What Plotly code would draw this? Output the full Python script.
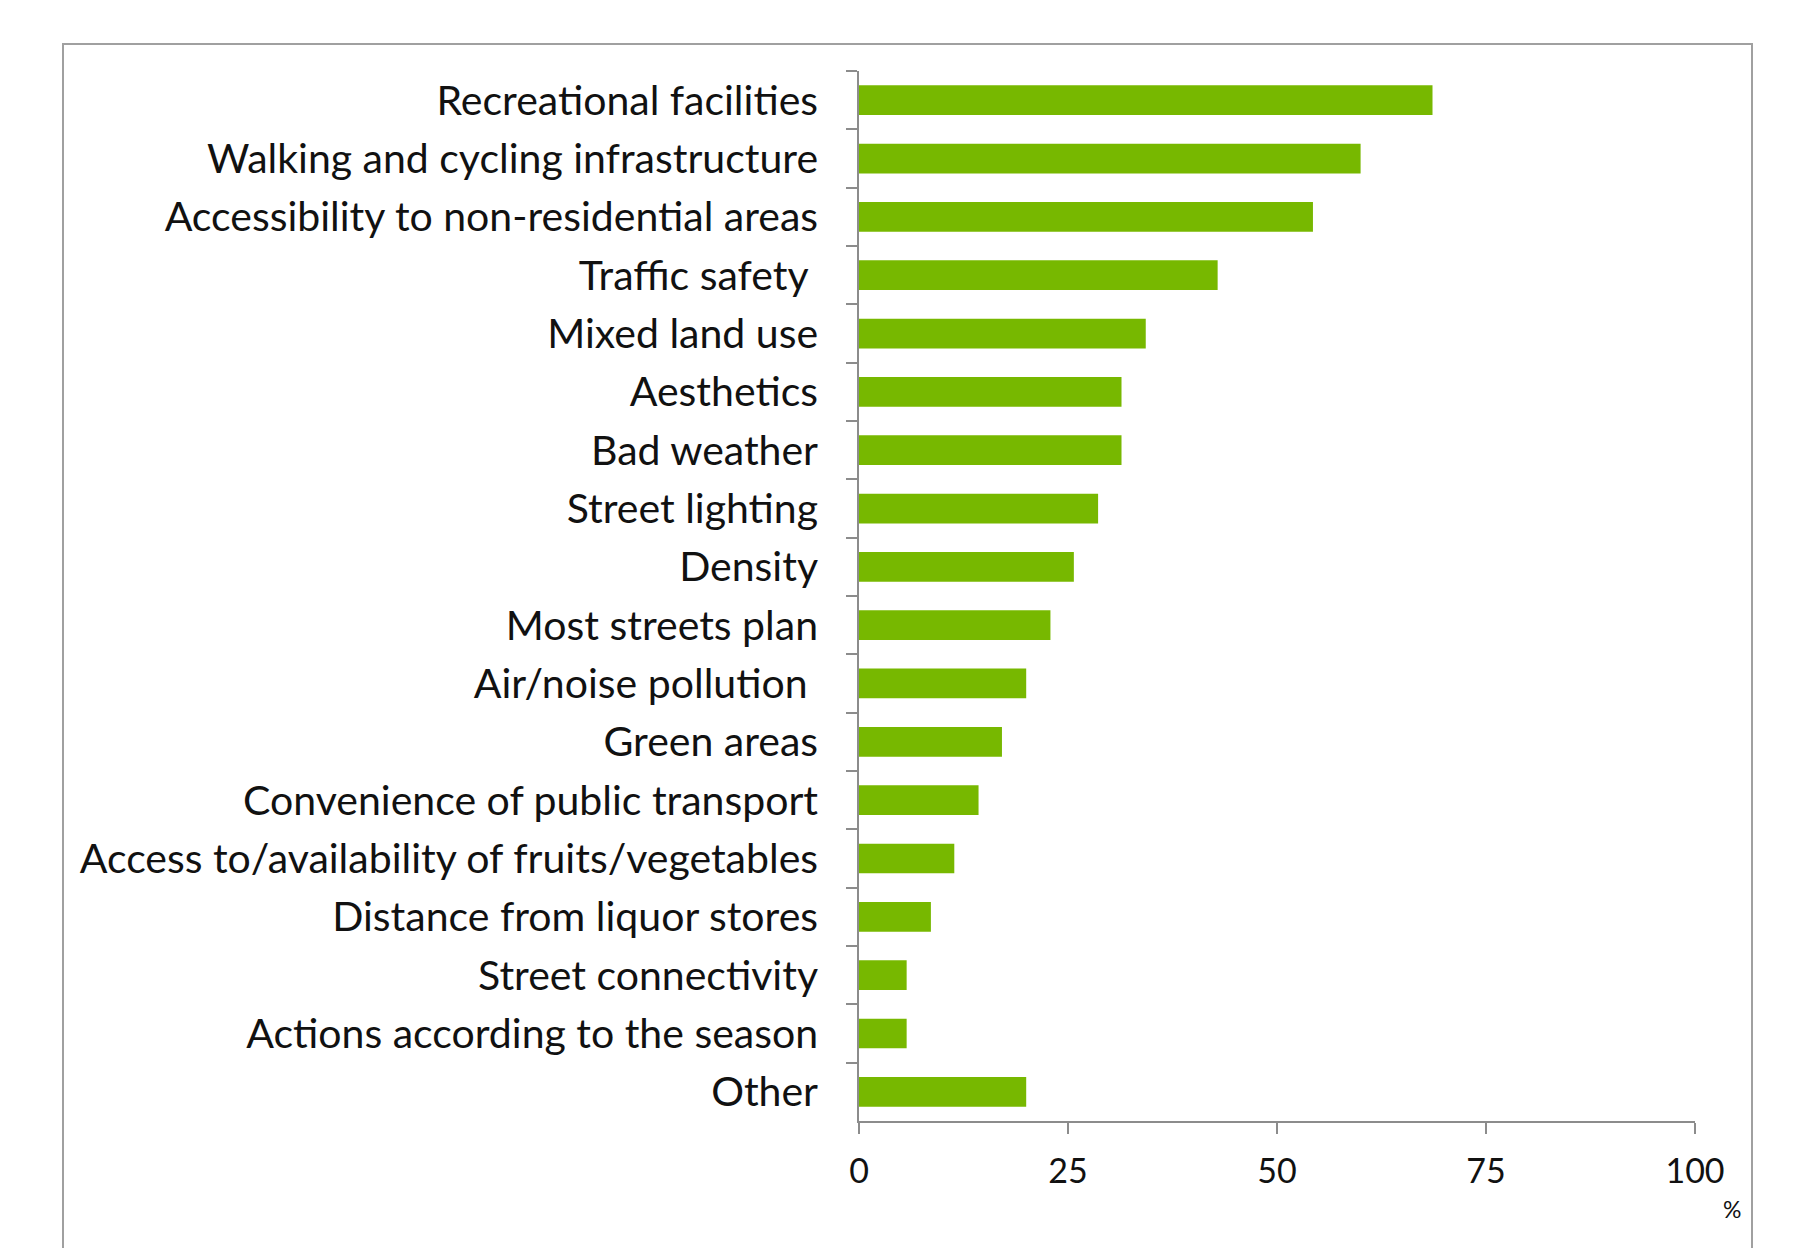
import plotly.graph_objects as go

categories = [
    "Recreational facilities",
    "Walking and cycling infrastructure",
    "Accessibility to non-residential areas",
    "Traffic safety ",
    "Mixed land use",
    "Aesthetics",
    "Bad weather",
    "Street lighting",
    "Density",
    "Most streets plan",
    "Air/noise pollution ",
    "Green areas",
    "Convenience of public transport",
    "Access to/availability of fruits/vegetables",
    "Distance from liquor stores",
    "Street connectivity",
    "Actions according to the season",
    "Other",
]
values = [68.6, 60.0, 54.3, 42.9, 34.3, 31.4, 31.4, 28.6, 25.7, 22.9, 20.0, 17.1, 14.3, 11.4, 8.6, 5.7, 5.7, 20.0]
x_ticks = [0, 25, 50, 75, 100]

FONT = "Lato, 'Open Sans', sans-serif"
AXIS_COLOR = "#8c8c8c"

fig = go.Figure(
    go.Bar(
        x=values,
        y=categories,
        orientation="h",
        marker=dict(color="#77B800", line=dict(width=0)),
    )
)

W, H = 1796, 1248
ml, mr, mt, mb = 859, 101, 71, 127
pw, ph = W - ml - mr, H - mt - mb

fig.update_layout(
    width=W,
    height=H,
    margin=dict(l=ml, r=mr, t=mt, b=mb, pad=0),
    paper_bgcolor="white",
    plot_bgcolor="white",
    bargap=0.49,
    showlegend=False,
    font=dict(family=FONT, color="#111111"),
    xaxis=dict(
        range=[0, 100],
        tickvals=x_ticks,
        ticktext=[str(v) for v in x_ticks],
        showgrid=False,
        zeroline=False,
        showline=True,
        linecolor=AXIS_COLOR,
        linewidth=1.5,
        ticks="outside",
        ticklen=11,
        tickcolor=AXIS_COLOR,
        tickwidth=1.5,
        tickfont=dict(size=34, family=FONT, color="#111111"),
        ticklabelstandoff=8,
    ),
    yaxis=dict(
        categoryorder="array",
        categoryarray=categories,
        autorange="reversed",
        showgrid=False,
        zeroline=False,
        showline=True,
        linecolor=AXIS_COLOR,
        linewidth=1.5,
        ticks="outside",
        tickson="boundaries",
        ticklen=11,
        tickcolor=AXIS_COLOR,
        tickwidth=1.5,
        tickfont=dict(size=41, family=FONT, color="#111111"),
        ticklabelstandoff=31,
    ),
    shapes=[
        dict(
            type="rect",
            xref="paper",
            yref="paper",
            x0=(63 - ml) / pw,
            x1=(1752 - ml) / pw,
            y0=(H - mb - 1260) / ph,
            y1=(H - mb - 44) / ph,
            line=dict(color="#a0a0a0", width=2),
            fillcolor="rgba(0,0,0,0)",
            layer="below",
        )
    ],
    annotations=[
        dict(
            text="%",
            xref="paper",
            yref="paper",
            x=(1732 - ml) / pw,
            y=(H - mb - 1209) / ph,
            xanchor="center",
            yanchor="middle",
            showarrow=False,
            font=dict(size=23, family=FONT, color="#111111"),
        )
    ],
)

fig.write_html("out.html")
